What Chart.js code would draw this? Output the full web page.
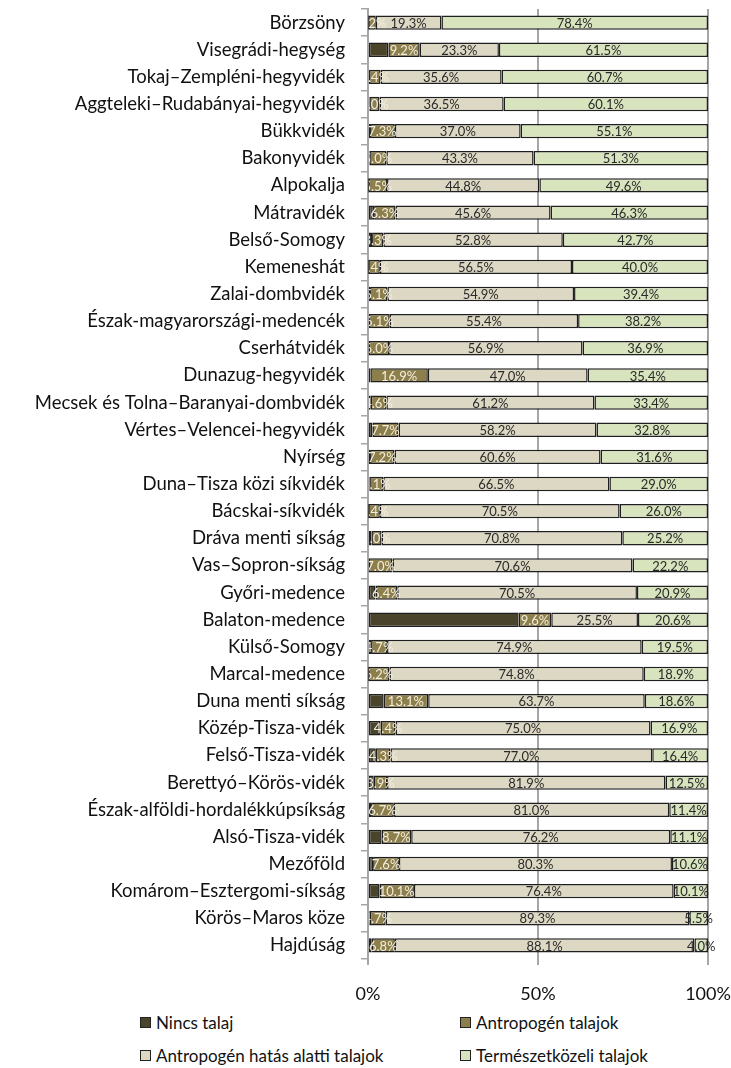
<!DOCTYPE html>
<html>
<head>
<meta charset="utf-8">
<script src="https://cdn.jsdelivr.net/npm/chart.js@4"></script>
<style>
html, body { margin: 0; background: #fff; font-family: Lato, sans-serif; overflow: hidden; }
#wrap { position: relative; width: 731px; height: 1068px; overflow: hidden; }
#box { position: absolute; left: 0; top: 0; width: 731px; height: 1008px; }
.lg { position: absolute; font-size: 17px; line-height: 20px; color: #111; white-space: nowrap; }
.lg i { display: inline-block; width: 9px; height: 9px; border: 1px solid #222; margin-right: 5px; vertical-align: 1px; }
</style>
</head>
<body>
<div id="wrap">
  <div id="box"><canvas id="soilChart"></canvas></div>
</div>
<script>
const regions = ['Börzsöny', 'Visegrádi-hegység', 'Tokaj–Zempléni-hegyvidék', 'Aggteleki–Rudabányai-hegyvidék',
    'Bükkvidék', 'Bakonyvidék', 'Alpokalja', 'Mátravidék', 'Belső-Somogy', 'Kemeneshát', 'Zalai-dombvidék',
    'Észak-magyarországi-medencék', 'Cserhátvidék', 'Dunazug-hegyvidék', 'Mecsek és Tolna–Baranyai-dombvidék',
    'Vértes–Velencei-hegyvidék', 'Nyírség', 'Duna–Tisza közi síkvidék', 'Bácskai-síkvidék', 'Dráva menti síkság',
    'Vas–Sopron-síkság', 'Győri-medence', 'Balaton-medence', 'Külső-Somogy', 'Marcal-medence', 'Duna menti síkság',
    'Közép-Tisza-vidék', 'Felső-Tisza-vidék', 'Berettyó–Körös-vidék', 'Észak-alföldi-hordalékkúpsíkság',
    'Alsó-Tisza-vidék', 'Mezőföld', 'Komárom–Esztergomi-síkság', 'Körös–Maros köze', 'Hajdúság'];

const nincsTalaj = [0.1, 6.0, 0.3, 0.4, 0.6, 0.4, 0.1, 1.8, 1.2, 0.1, 0.6, 0.3, 0.2, 0.7, 0.8, 1.3, 0.6, 0.4,
    0.1, 1.0, 0.2, 2.2, 44.3, 0.9, 0.1, 4.6, 3.7, 2.3, 1.7, 0.9, 4.0, 1.5, 3.4, 0.5, 1.1];
const antropogen = [2.2, 9.2, 3.4, 3.0, 7.3, 5.0, 5.5, 6.3, 3.3, 3.4, 5.1, 6.1, 6.0, 16.9, 4.6, 7.7, 7.2, 4.1,
    3.4, 3.0, 7.0, 6.4, 9.6, 4.7, 6.2, 13.1, 4.4, 4.3, 3.9, 6.7, 8.7, 7.6, 10.1, 4.7, 6.8];
const hatasAlatti = [19.3, 23.3, 35.6, 36.5, 37.0, 43.3, 44.8, 45.6, 52.8, 56.5, 54.9, 55.4, 56.9, 47.0, 61.2,
    58.2, 60.6, 66.5, 70.5, 70.8, 70.6, 70.5, 25.5, 74.9, 74.8, 63.7, 75.0, 77.0, 81.9, 81.0, 76.2, 80.3, 76.4, 89.3, 88.1];
const termeszetkozeli = [78.4, 61.5, 60.7, 60.1, 55.1, 51.3, 49.6, 46.3, 42.7, 40.0, 39.4, 38.2, 36.9, 35.4, 33.4,
    32.8, 31.6, 29.0, 26.0, 25.2, 22.2, 20.9, 20.6, 19.5, 18.9, 18.6, 16.9, 16.4, 12.5, 11.4, 11.1, 10.6, 10.1, 5.5, 4.0];
const xTicks = [0, 50, 100];

const gridGray = '#a6a6a6';
const edge = '#1f1f1f';

function bars(label, data, color, textColor) {
    return {
        label: label,
        data: data,
        backgroundColor: color,
        borderColor: edge,
        borderWidth: 1.5,
        borderSkipped: false,
        barPercentage: 0.53,
        categoryPercentage: 1,
        labelColor: textColor
    };
}

// labels inside the segments (no datalabels plugin available)
const segmentLabels = {
    id: 'segmentLabels',
    afterDatasetsDraw(chart) {
        const ctx = chart.ctx;
        const area = chart.chartArea;
        ctx.save();
        ctx.beginPath();
        ctx.rect(area.left + 1, 0, chart.width - area.left, chart.height);
        ctx.clip();
        ctx.font = '13px Lato';
        ctx.textAlign = 'center';
        ctx.textBaseline = 'middle';
        chart.data.datasets.forEach(function(ds, i) {
            if (!ds.labelColor) return;
            chart.getDatasetMeta(i).data.forEach(function(bar, j) {
                const p = bar.getCenterPoint();
                ctx.fillStyle = ds.labelColor;
                ctx.fillText(ds.data[j].toFixed(1) + '%', p.x, p.y + 1);
            });
        });
        ctx.restore();
    }
};

const ctx = document.getElementById('soilChart').getContext('2d');
const soilChart = new Chart(ctx, {
    type: 'bar',
    data: {
        labels: regions,
        datasets: [
            bars('Nincs talaj', nincsTalaj, '#4a442b', null),
            bars('Antropogén talajok', antropogen, '#8d7f4c', '#f3eedc'),
            bars('Antropogén hatás alatti talajok', hatasAlatti, '#ddd8c3', '#2a2a2a'),
            bars('Természetközeli talajok', termeszetkozeli, '#d8e4bd', '#2a2a2a')
        ]
    },
    options: {
        indexAxis: 'y',
        responsive: true,
        maintainAspectRatio: false,
        animation: false,
        layout: { padding: { top: 9, right: 23, bottom: 0, left: 0 } },
        plugins: {
            legend: { display: false },
            tooltip: { enabled: false }
        },
        scales: {
            x: {
                stacked: true,
                min: 0,
                max: 100,
                afterFit: function(s) {
                    s.height = 49;
                    s.paddingLeft = 0;
                    s.paddingRight = 0;
                },
                afterBuildTicks: function(s) { s.ticks = xTicks.map(v => ({ value: v })); },
                ticks: {
                    font: { family: 'Lato', size: 18 },
                    color: '#111',
                    padding: 18,
                    callback: v => v + '%'
                },
                grid: { color: gridGray, lineWidth: 2, tickLength: 6 },
                border: { display: false }
            },
            y: {
                stacked: true,
                afterFit: function(s) {
                    s.width = 368;
                    s.paddingTop = 0;
                    s.paddingBottom = 0;
                },
                ticks: {
                    font: { family: 'Lato', size: 18.5 },
                    color: '#111',
                    padding: 16
                },
                grid: { drawOnChartArea: false, color: gridGray, lineWidth: 1.5, tickLength: 7, offset: true },
                border: { color: gridGray, width: 2 }
            }
        }
    },
    plugins: [segmentLabels]
});

// two-column legend below the chart
const legendPos = [[140, 1013], [460, 1013], [140, 1046], [460, 1046]];
soilChart.data.datasets.forEach(function(ds, i) {
    const item = document.createElement('div');
    item.className = 'lg';
    item.style.left = legendPos[i][0] + 'px';
    item.style.top = legendPos[i][1] + 'px';
    item.innerHTML = '<i style="background:' + ds.backgroundColor + '"></i>' + ds.label;
    document.getElementById('wrap').appendChild(item);
});
</script>
</body>
</html>
